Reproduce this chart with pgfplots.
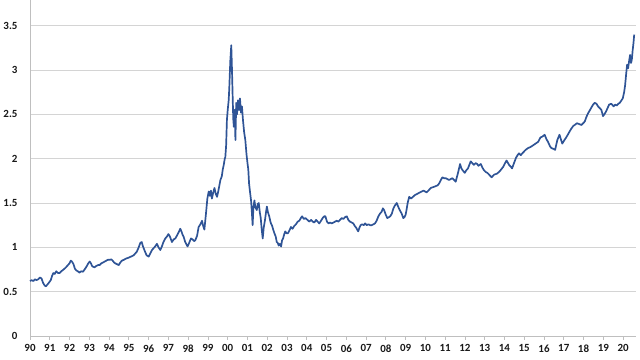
\documentclass[border=0pt]{standalone}
\usepackage{pgfplots}
\pgfplotsset{compat=1.18}
\usepackage{fontspec}
\setmainfont{Carlito}
\definecolor{lineblue}{RGB}{47,84,150}
\definecolor{gridgray}{RGB}{212,212,212}
\definecolor{axisgray}{RGB}{191,191,191}
\begin{document}
\begin{tikzpicture}
\path[use as bounding box] (0,0) rectangle (640bp,360bp);
\begin{axis}[
  at={(30bp,24bp)}, anchor=south west,
  scale only axis, width=606bp, height=336bp,
  xmin=1990, xmax=2020.65, ymin=0, ymax=3.79,
  axis lines=left, axis line style={-, draw=axisgray, line width=0.75pt},
  xtick={1990,...,2020},
  xticklabels={90,91,92,93,94,95,96,97,98,99,00,01,02,03,04,05,06,07,08,09,10,11,12,13,14,15,16,17,18,19,20},
  ytick={0,0.5,1,1.5,2,2.5,3,3.5},
  yticklabels={0,0.5,1,1.5,2,2.5,3,3.5},
  ymajorgrids, grid style={draw=gridgray, line width=0.75pt},
  tick align=outside, major tick length=4bp,
  xtick style={draw=axisgray, line width=0.75pt},
  ytick style={draw=none},
  ticklabel style={font=\bfseries\fontsize{11}{13}\selectfont, text=black!90},
  /pgf/number format/assume math mode=true,
  yticklabel style={xshift=-5bp},
  xticklabel style={yshift=-1bp},
  clip=false,
]
\addplot[lineblue, line width=1.7pt, line join=round] coordinates {
(1990.00,0.62)(1990.08,0.63)(1990.17,0.62)(1990.25,0.64)(1990.33,0.63)(1990.42,0.64)(1990.50,0.66)(1990.58,0.65)(1990.66,0.60)(1990.74,0.57)(1990.80,0.56)(1990.88,0.58)(1990.95,0.60)
(1991.05,0.63)(1991.12,0.68)(1991.18,0.71)(1991.25,0.70)(1991.33,0.73)(1991.42,0.71)(1991.50,0.71)(1991.58,0.73)(1991.67,0.745)(1991.75,0.76)(1991.84,0.78)(1991.92,0.80)
(1992.00,0.82)(1992.06,0.85)(1992.12,0.84)(1992.20,0.81)(1992.27,0.76)(1992.34,0.74)(1992.42,0.73)(1992.50,0.715)(1992.58,0.73)(1992.68,0.725)(1992.76,0.75)(1992.85,0.78)(1992.95,0.82)
(1993.02,0.84)(1993.08,0.82)(1993.14,0.79)(1993.20,0.78)(1993.27,0.775)(1993.35,0.79)(1993.44,0.80)(1993.52,0.80)(1993.61,0.82)(1993.70,0.83)(1993.78,0.84)(1993.86,0.85)(1993.95,0.86)
(1994.05,0.86)(1994.11,0.865)(1994.18,0.85)(1994.25,0.83)(1994.31,0.82)(1994.40,0.81)(1994.49,0.80)(1994.57,0.83)(1994.65,0.85)(1994.75,0.86)(1994.87,0.875)(1994.95,0.88)
(1995.05,0.89)(1995.15,0.90)(1995.24,0.91)(1995.32,0.93)(1995.40,0.95)(1995.48,0.99)(1995.58,1.05)(1995.65,1.06)(1995.70,1.02)(1995.75,0.99)(1995.82,0.95)(1995.90,0.91)
(1996.00,0.895)(1996.08,0.93)(1996.17,0.97)(1996.25,0.99)(1996.33,1.01)(1996.42,1.04)(1996.50,1.00)(1996.59,0.97)(1996.67,1.01)(1996.75,1.06)(1996.84,1.10)(1996.92,1.12)
(1997.00,1.15)(1997.08,1.12)(1997.18,1.06)(1997.27,1.09)(1997.35,1.10)(1997.45,1.14)(1997.52,1.17)(1997.60,1.21)(1997.66,1.18)(1997.72,1.14)(1997.77,1.12)(1997.85,1.06)(1997.92,1.03)(1997.97,1.01)
(1998.05,1.05)(1998.14,1.10)(1998.22,1.09)(1998.30,1.07)(1998.36,1.08)(1998.45,1.13)(1998.53,1.23)(1998.62,1.26)(1998.70,1.30)(1998.76,1.24)(1998.82,1.20)(1998.90,1.38)(1998.97,1.55)
(1999.04,1.63)(1999.10,1.58)(1999.15,1.64)(1999.20,1.55)(1999.27,1.62)(1999.33,1.67)(1999.40,1.60)(1999.46,1.57)(1999.52,1.63)(1999.58,1.70)(1999.63,1.76)(1999.70,1.80)(1999.75,1.88)(1999.80,1.93)(1999.85,2.00)(1999.88,2.02)(1999.92,2.15)(1999.96,2.44)
(2000.00,2.55)(2000.05,2.66)(2000.08,2.80)(2000.13,3.10)(2000.18,3.28)(2000.21,3.05)(2000.25,2.70)(2000.28,2.45)(2000.31,2.36)(2000.35,2.55)(2000.39,2.21)(2000.43,2.63)(2000.47,2.50)(2000.52,2.66)(2000.57,2.55)(2000.62,2.68)(2000.67,2.52)(2000.72,2.59)(2000.77,2.44)(2000.83,2.30)(2000.89,2.21)(2000.95,2.05)
(2001.00,1.95)(2001.04,1.88)(2001.08,1.72)(2001.13,1.62)(2001.18,1.53)(2001.22,1.40)(2001.26,1.25)(2001.30,1.45)(2001.35,1.53)(2001.40,1.45)(2001.47,1.42)(2001.52,1.49)(2001.57,1.50)(2001.62,1.40)(2001.67,1.33)(2001.72,1.20)(2001.77,1.10)(2001.82,1.22)(2001.88,1.30)(2001.94,1.40)(2001.98,1.46)
(2002.03,1.40)(2002.10,1.35)(2002.17,1.28)(2002.25,1.24)(2002.30,1.20)(2002.36,1.16)(2002.43,1.12)(2002.48,1.06)(2002.53,1.05)(2002.58,1.02)(2002.64,1.04)(2002.70,1.01)(2002.75,1.08)(2002.80,1.10)(2002.86,1.15)(2002.91,1.18)(2002.97,1.16)
(2003.05,1.16)(2003.12,1.19)(2003.20,1.23)(2003.28,1.21)(2003.36,1.24)(2003.45,1.26)(2003.54,1.29)(2003.62,1.30)(2003.70,1.33)(2003.76,1.35)(2003.85,1.32)(2003.93,1.33)
(2004.03,1.31)(2004.13,1.29)(2004.22,1.31)(2004.30,1.29)(2004.38,1.28)(2004.47,1.31)(2004.55,1.29)(2004.63,1.27)(2004.72,1.30)(2004.80,1.33)(2004.88,1.35)(2004.94,1.35)
(2005.02,1.29)(2005.10,1.27)(2005.17,1.28)(2005.26,1.27)(2005.35,1.28)(2005.43,1.29)(2005.52,1.30)(2005.60,1.29)(2005.68,1.31)(2005.77,1.33)(2005.85,1.32)(2005.93,1.34)
(2006.02,1.35)(2006.10,1.31)(2006.18,1.29)(2006.27,1.28)(2006.35,1.27)(2006.43,1.24)(2006.50,1.22)(2006.60,1.18)(2006.66,1.22)(2006.72,1.25)(2006.80,1.26)(2006.88,1.25)(2006.95,1.27)
(2007.03,1.25)(2007.12,1.26)(2007.20,1.25)(2007.28,1.25)(2007.37,1.26)(2007.45,1.27)(2007.53,1.30)(2007.62,1.35)(2007.70,1.38)(2007.78,1.40)(2007.85,1.44)(2007.91,1.42)(2007.99,1.37)
(2008.07,1.33)(2008.15,1.34)(2008.22,1.35)(2008.30,1.38)(2008.38,1.44)(2008.45,1.47)(2008.55,1.50)(2008.62,1.46)(2008.70,1.42)(2008.80,1.38)(2008.88,1.33)(2008.94,1.34)
(2009.00,1.37)(2009.05,1.43)(2009.10,1.50)(2009.18,1.57)(2009.27,1.55)(2009.37,1.57)(2009.47,1.59)(2009.56,1.60)(2009.64,1.61)(2009.73,1.62)(2009.81,1.63)(2009.90,1.64)(2009.98,1.63)
(2010.06,1.62)(2010.15,1.64)(2010.27,1.67)(2010.40,1.68)(2010.52,1.69)(2010.62,1.70)(2010.69,1.72)(2010.78,1.76)(2010.86,1.79)(2010.94,1.78)
(2011.03,1.78)(2011.11,1.77)(2011.19,1.76)(2011.28,1.77)(2011.36,1.78)(2011.45,1.76)(2011.53,1.74)(2011.60,1.80)(2011.67,1.86)(2011.75,1.94)(2011.82,1.89)(2011.88,1.87)(2011.99,1.84)
(2012.07,1.87)(2012.15,1.89)(2012.22,1.93)(2012.29,1.97)(2012.37,1.95)(2012.45,1.93)(2012.54,1.95)(2012.62,1.94)(2012.68,1.92)(2012.80,1.94)(2012.88,1.90)(2012.96,1.87)
(2013.05,1.85)(2013.13,1.84)(2013.22,1.82)(2013.35,1.79)(2013.47,1.82)(2013.61,1.83)(2013.72,1.85)(2013.80,1.87)(2013.94,1.91)
(2014.03,1.95)(2014.10,1.98)(2014.18,1.95)(2014.23,1.93)(2014.32,1.91)(2014.38,1.89)(2014.48,1.95)(2014.58,2.01)(2014.66,2.04)(2014.73,2.06)(2014.82,2.04)(2014.94,2.07)
(2015.07,2.10)(2015.19,2.12)(2015.30,2.13)(2015.44,2.15)(2015.57,2.17)(2015.70,2.19)(2015.82,2.24)(2015.92,2.25)
(2016.03,2.27)(2016.12,2.22)(2016.20,2.19)(2016.30,2.14)(2016.37,2.12)(2016.48,2.11)(2016.56,2.10)(2016.67,2.21)(2016.78,2.27)(2016.85,2.22)(2016.92,2.17)
(2017.03,2.21)(2017.12,2.24)(2017.20,2.27)(2017.30,2.31)(2017.38,2.34)(2017.48,2.37)(2017.55,2.38)(2017.66,2.40)(2017.78,2.39)(2017.89,2.38)(2017.98,2.40)
(2018.06,2.42)(2018.14,2.47)(2018.22,2.51)(2018.30,2.54)(2018.40,2.58)(2018.48,2.61)(2018.56,2.63)(2018.65,2.62)(2018.73,2.59)(2018.82,2.57)(2018.90,2.55)(2018.98,2.48)
(2019.05,2.50)(2019.13,2.53)(2019.21,2.57)(2019.29,2.61)(2019.40,2.62)(2019.52,2.59)(2019.60,2.61)(2019.68,2.60)(2019.76,2.62)(2019.83,2.63)(2019.92,2.66)(2019.98,2.68)
(2020.05,2.75)(2020.10,2.83)(2020.15,2.95)(2020.20,3.06)(2020.25,3.02)(2020.30,3.10)(2020.35,3.17)(2020.40,3.08)(2020.44,3.12)(2020.48,3.22)(2020.52,3.30)(2020.56,3.40)
};
\end{axis}
\end{tikzpicture}
\end{document}
